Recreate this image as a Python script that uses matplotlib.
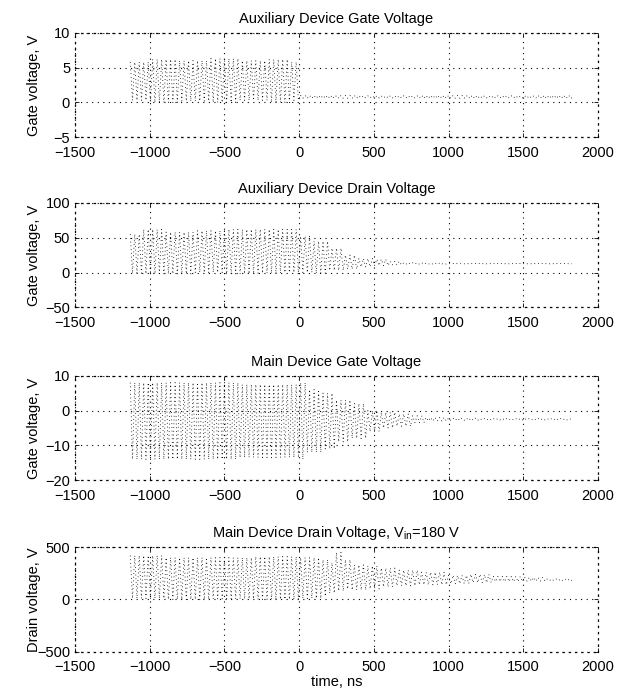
import numpy as np
import matplotlib.pyplot as plt

plt.rcParams['font.family'] = ['Liberation Sans', 'DejaVu Sans']
plt.rcParams['mathtext.fontset'] = 'custom'
plt.rcParams['mathtext.rm'] = 'Liberation Sans'
plt.rcParams['font.size'] = 10.5

# ringing period of the traces (ns), start and end of the records
period = 30.0
t_start = -1130.0
t_end = [1830.0, 1820.0, 1840.0, 1840.0]

# envelopes: from each knot time on, the trace swings hi..lo
aux_gate_t = [-1130, -1000, -800, -600, -400, -200, -50, 0, 400, 800, 1200, 1600]
aux_gate_hi = [5.8, 6.2, 6.0, 6.3, 6.0, 6.2, 5.8, 1.0, 0.95, 1.0, 0.95, 1.0]
aux_gate_lo = [0.3, 0.0, 0.2, 0.0, 0.3, 0.0, 0.3, 0.6, 0.65, 0.6, 0.65, 0.6]

aux_drain_t = [-1130, -1050, -900, -700, -500, -300, -100, 0, 100, 200, 300, 400, 500, 600, 700, 850, 1000]
aux_drain_hi = [55, 62, 58, 60, 62, 62, 62, 52, 45, 35, 25, 20, 19, 16, 14, 13.5, 13]
aux_drain_lo = [-1, -2, -2, 0, -2, -1, 0, 0, -1, 3, 5, 8, 10, 11, 12, 12, 12.5]

main_gate_t = [-1130, -800, -400, 0, 50, 150, 250, 350, 450, 550, 650, 750, 850, 1000, 1200]
main_gate_hi = [8, 8, 7.5, 8, 6, 5, 3, 2, 0, -0.5, -1, -1.5, -2, -2.2, -2.3]
main_gate_lo = [-14, -14, -13.5, -14, -12, -11, -9, -8, -6, -5, -4.5, -3.5, -3, -2.8, -2.7]

main_drain_t = [-1130, -900, -600, -300, 0, 150, 200, 250, 300, 350, 450, 550, 650, 800, 1000, 1150, 1300, 1500, 1650]
main_drain_hi = [420, 400, 400, 410, 400, 380, 350, 450, 380, 330, 320, 300, 280, 260, 230, 240, 220, 210, 195]
main_drain_lo = [10, 0, 5, 0, 10, 30, 60, 80, 100, 90, 100, 120, 130, 140, 150, 160, 170, 175, 180]

titles = ['Auxiliary Device Gate Voltage',
          'Auxiliary Device Drain Voltage',
          'Main Device Gate Voltage',
          r'Main Device Drain Voltage, V$_{\mathrm{in}}$=180 V']
ylabels = ['Gate voltage, V', 'Gate voltage, V', 'Gate voltage, V', 'Drain voltage, V']
ylims = [(-5, 10), (-50, 100), (-20, 10), (-500, 500)]
yticks = [[-5, 0, 5, 10], [-50, 0, 50, 100], [-20, -10, 0, 10], [-500, 0, 500]]
xticks = [-1500, -1000, -500, 0, 500, 1000, 1500, 2000]

envelopes = [(aux_gate_t, aux_gate_hi, aux_gate_lo),
             (aux_drain_t, aux_drain_hi, aux_drain_lo),
             (main_gate_t, main_gate_hi, main_gate_lo),
             (main_drain_t, main_drain_hi, main_drain_lo)]


def trace(knots, hi, lo, t1):
    # peak / trough times, each taking the envelope value held from the last knot
    tp = np.arange(t_start, t1, period)
    tt = tp + period / 2
    idx_p = np.searchsorted(knots, tp, side='right') - 1
    idx_t = np.searchsorted(knots, tt, side='right') - 1
    t = np.empty(2 * len(tp))
    v = np.empty(2 * len(tp))
    t[0::2] = tp
    t[1::2] = tt
    v[0::2] = np.asarray(hi)[idx_p]
    v[1::2] = np.asarray(lo)[idx_t]
    return t, v


fig = plt.figure(figsize=(6.28, 6.97), dpi=100)
bottoms = [0.803, 0.559, 0.311, 0.065]

for i in range(4):
    ax = fig.add_axes([0.1194, bottoms[i], 0.8328, 0.150])
    k, hi, lo = envelopes[i]
    t, v = trace(k, hi, lo, t_end[i])
    ax.plot(t, v, color='k', linewidth=0.6, linestyle=(0, (1, 3.5)))
    ax.set_xlim(-1500, 2000)
    ax.set_ylim(*ylims[i])
    ax.set_xticks(xticks)
    ax.set_yticks(yticks[i])
    ax.grid(True, color='k', linewidth=0.8, linestyle=(0, (1, 4)))
    for sp in ax.spines.values():
        sp.set_linestyle((0, (1, 4)))
        sp.set_linewidth(0.9)
    ax.tick_params(direction='in', top=True, right=True, length=3, width=0.6,
                   labelsize=10.5)
    ax.tick_params(axis='x', pad=6)
    ax.set_title(titles[i], fontsize=10.5, pad=7)
    ax.set_ylabel(ylabels[i], fontsize=10.5)
    ax.yaxis.set_label_coords(-0.065, 0.5)

ax.set_xlabel('time, ns', fontsize=10.5, labelpad=1)

fig.savefig('out.png', dpi=100)
